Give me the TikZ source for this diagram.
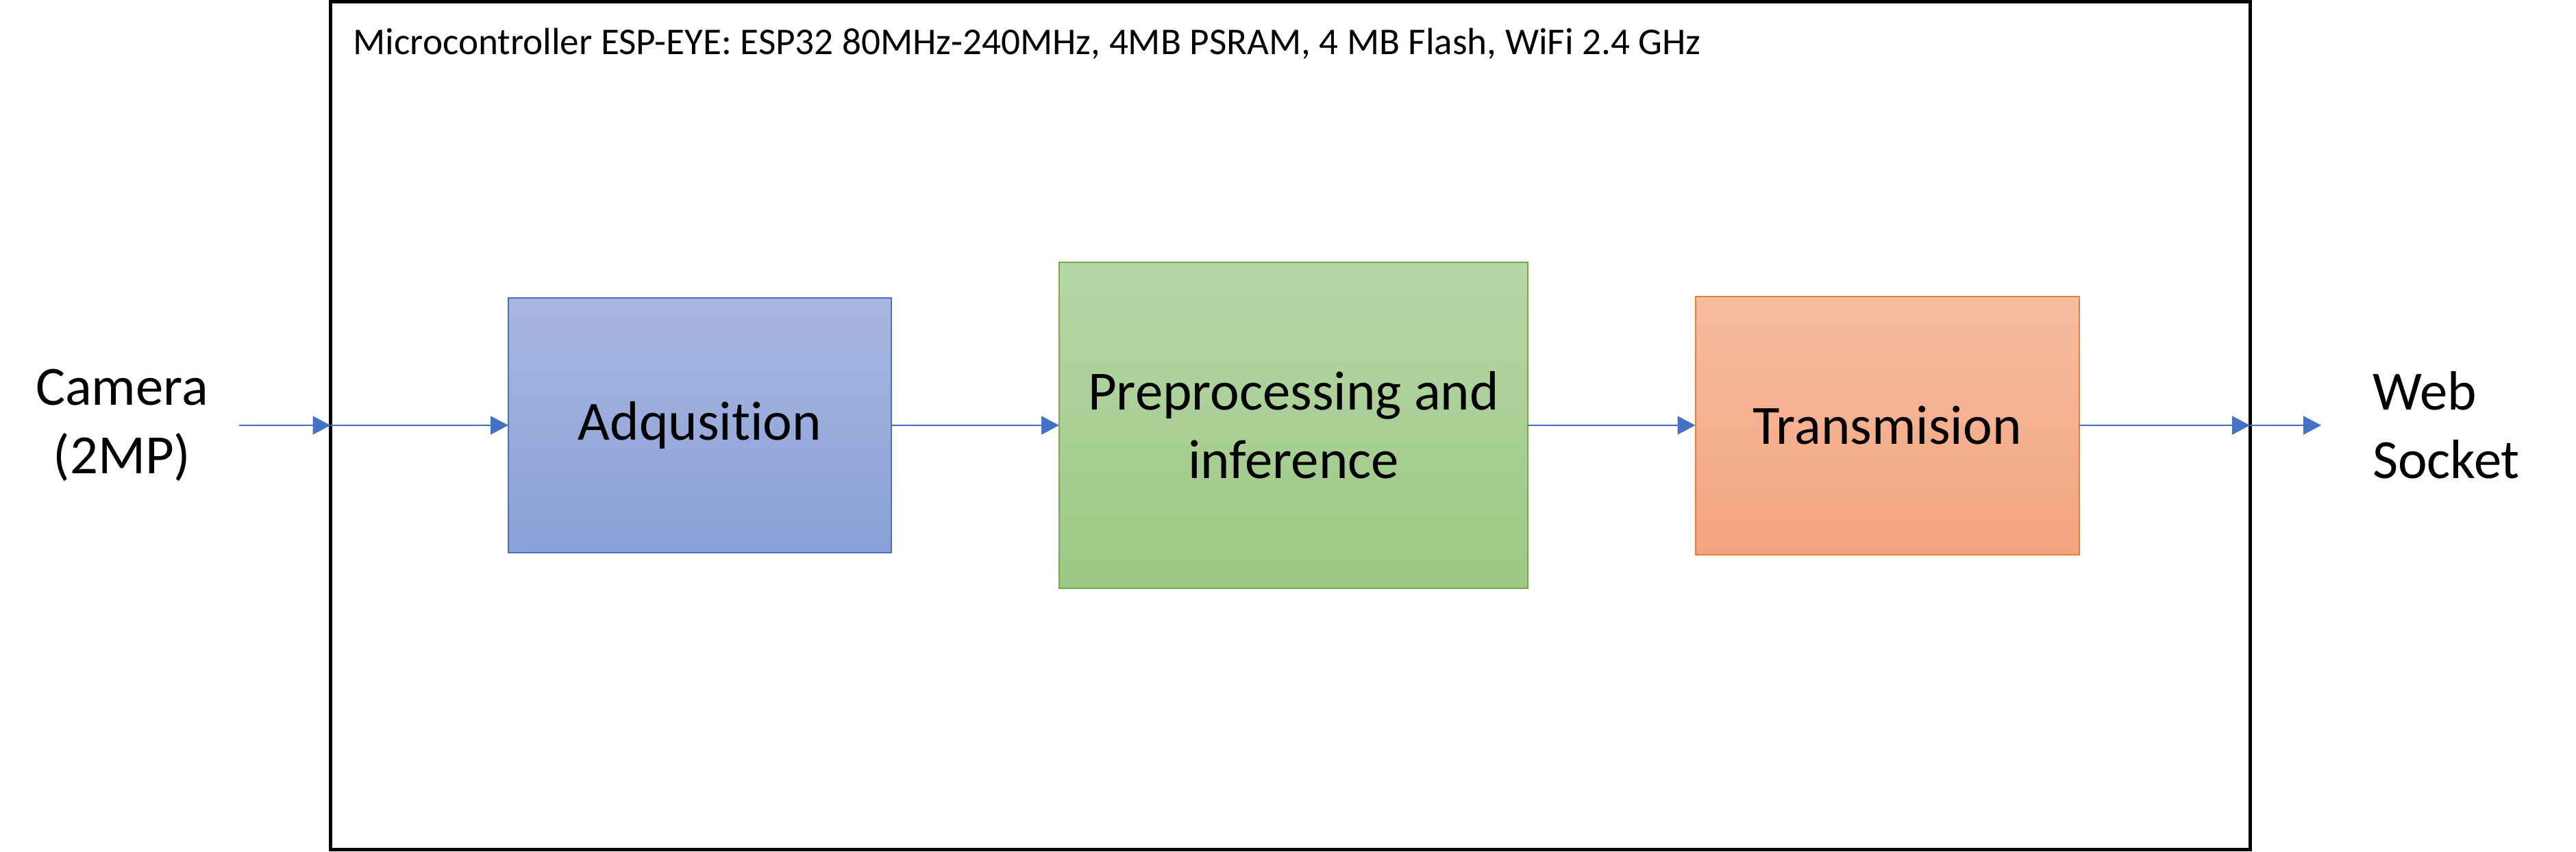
\documentclass[tikz,border=0pt]{standalone}
\usepackage{fontspec}
\setmainfont{Carlito}[Ligatures=NoCommon]
\usepackage{tikz}
\usetikzlibrary{positioning, shapes, arrows.meta, calc}
\definecolor{myblue}{RGB}{68,114,196}
\definecolor{bluetop}{RGB}{169,183,224}
\definecolor{bluebot}{RGB}{137,160,215}
\definecolor{mygreen}{RGB}{112,173,71}
\definecolor{greentop}{RGB}{182,215,168}
\definecolor{greenbot}{RGB}{157,200,131}
\definecolor{myorange}{RGB}{237,125,49}
\definecolor{orangetop}{RGB}{245,189,162}
\definecolor{orangebot}{RGB}{244,164,125}
\tikzset{
  stage/.style={draw,outer sep=0,inner sep=3,line width=0.02cm,
    align=center, font=\fontsize{23}{28.5}\selectfont},
  bluebox/.style={stage, draw=myblue, top color=bluetop, bottom color=bluebot},
  greenbox/.style={stage, draw=mygreen, top color=greentop, bottom color=greenbot},
  orangebox/.style={stage, draw=myorange, top color=orangetop, bottom color=orangebot},
  noborder/.style={draw=none,outer sep=0,inner sep=0,
    font=\fontsize{23}{28.5}\selectfont},
  flow/.style={-{Triangle[width=0.27cm,length=0.26cm]}, color=myblue, line width=0.02cm}
}
\begin{document}
\begin{tikzpicture}
\useasboundingbox (0,0) rectangle (37.6,12.43);
%board
\node [draw, line width=0.05cm, minimum width=28.015cm, minimum height=12.375cm,
  inner sep=0, outer sep=0] (esp) at (18.8325,6.2175) {};
\node [anchor=base west, inner sep=0, font=\fontsize{15.7}{19}\selectfont] (title)
  at (5.15,11.63) {Microcontroller ESP-EYE: ESP32 80MHz-240MHz, 4MB PSRAM, 4 MB Flash, WiFi 2.4 GHz};

%stages
\node [bluebox, minimum width=5.59cm, minimum height=3.72cm] (adq) at (10.215,6.22) {Adqusition};
\node [greenbox, minimum width=6.84cm, minimum height=4.76cm] (pre) at (18.88,6.22) {Preprocessing and\\inference};
\node [orangebox, minimum width=5.60cm, minimum height=3.77cm] (tra) at (27.545,6.22) {Transmision};

%outside
\node [noborder, align=center] (cam) at (1.78,6.22) {Camera\\(2MP)};
\node [noborder, align=left, anchor=west] (web) at (34.63,6.22) {Web\\Socket};

\coordinate (in) at (esp.west |- adq.west);
\coordinate (out) at (esp.east |- tra.east);

\draw[flow] ([xshift=0.45cm]cam.east |- in) -- (in);
\draw[flow] (in) -- (adq.west);
\draw[flow] (adq.east) -- (pre.west);
\draw[flow] (pre.east) -- (tra.west);
\draw[flow] (tra.east) -- (out);
\draw[flow] (out) -- ([xshift=-0.75cm]web.west |- out);

\end{tikzpicture}
\end{document}
